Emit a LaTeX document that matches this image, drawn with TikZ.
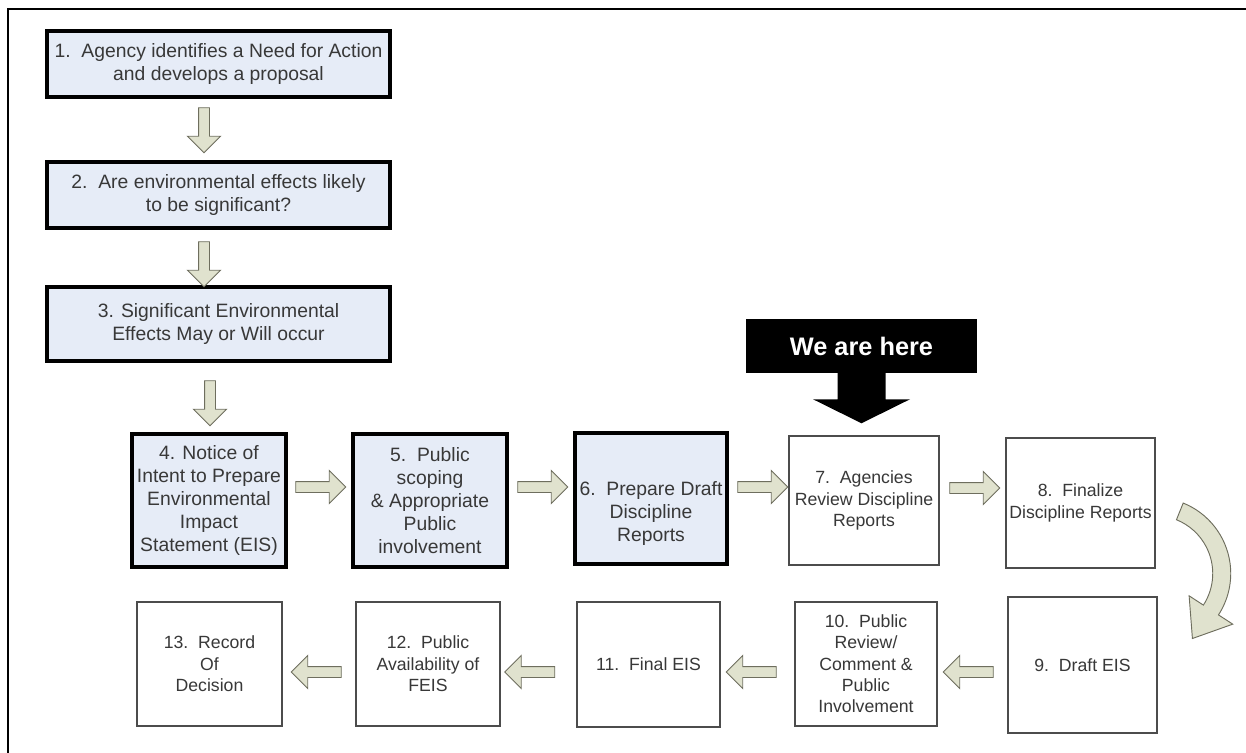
\documentclass[tikz,border=0pt]{standalone}
\usepackage{fontspec}
\setmainfont{Liberation Sans}
\usetikzlibrary{shapes.arrows,calc}
\definecolor{stepblue}{HTML}{E6ECF7}
\definecolor{arrfill}{HTML}{E0E2CE}
\definecolor{arrline}{HTML}{6E6E5E}
\definecolor{txtgray}{HTML}{383838}
\tikzset{
  donebox/.style={draw=black, line width=2.6pt, fill=stepblue, align=center,
    text=txtgray, font=\fontsize{14.5}{17.25}\selectfont, inner sep=0pt},
  todobox/.style={draw=black!70, line width=1.1pt, fill=white, align=center,
    text=txtgray, font=\fontsize{13.25}{16}\selectfont, inner sep=0pt},
  flowarr/.style={single arrow, draw=arrline, fill=arrfill, line width=0.7pt,
    inner sep=0pt, inner ysep=3.75pt, single arrow head extend=8.25pt},
  downarr/.style={flowarr, rotate=-90, minimum height=33.75pt},
  rightarr/.style={flowarr, minimum height=37.5pt},
  leftarr/.style={flowarr, rotate=180, minimum height=37.5pt},
}
\begin{document}
\begin{tikzpicture}[x=0.75pt,y=-0.75pt]
  \useasboundingbox (0,0) rectangle (1246,753);
  \draw[line width=2pt] (8,753) -- (8,9) -- (1246,9);
  % steps done so far
  \node[donebox, minimum width=257.25pt, minimum height=49.5pt] (b1) at (218.5,64)
    {1.~~Agency identifies a Need for Action\\and develops a proposal};
  \node[donebox, minimum width=257.25pt, minimum height=49.5pt] (b2) at (218.5,195)
    {2.~~Are environmental effects likely\\to be significant?};
  \node[donebox, minimum width=257.25pt, minimum height=55.5pt] (b3) at (218.5,324)
    {3. Significant Environmental\\Effects May or Will occur};
  \node[donebox, minimum width=115.5pt, minimum height=99.75pt] (b4) at (209,500.5)
    {4. Notice of\\Intent to Prepare\\Environmental\\Impact\\Statement (EIS)};
  \node[donebox, minimum width=115.5pt, minimum height=99.75pt] (b5) at (430,500.5)
    {5.~~Public\\scoping\\\& Appropriate\\Public\\involvement};
  \node[donebox, minimum width=114pt, minimum height=98.25pt] (b6) at (651,498.5)
    {\rule{0pt}{33pt}6.~~Prepare Draft\\Discipline\\Reports};
  % steps still to come
  \node[todobox, minimum width=112.5pt, minimum height=96.75pt] (b7) at (864,500.5)
    {7.~~Agencies\\Review Discipline\\Reports};
  \node[todobox, minimum width=111.75pt, minimum height=97.5pt] (b8) at (1080.5,503)
    {8.~~Finalize\\Discipline Reports};
  \node[todobox, minimum width=111.75pt, minimum height=102pt] (b9) at (1082.5,665)
    {9.~~Draft EIS};
  \node[todobox, minimum width=106.5pt, minimum height=93pt] (b10) at (866,664)
    {10.~~Public\\Review/\\Comment \&\\Public\\Involvement};
  \node[todobox, minimum width=107.25pt, minimum height=93.75pt] (b11) at (648.5,664.5)
    {11.~~Final EIS};
  \node[todobox, minimum width=108pt, minimum height=93pt] (b12) at (428,664)
    {12.~~Public\\Availability of\\FEIS};
  \node[todobox, minimum width=108.75pt, minimum height=93pt] (b13) at (209.5,664)
    {13.~~Record\\Of\\Decision};
  % block arrows
  \node[downarr] (a12) at (204,127.5) {};
  \node[downarr] (a23) at (204,261.5) {};
  \node[downarr] (a34) at (210,400.5) {};
  \node[rightarr] (a45) at (318,487) {};
  \node[rightarr] (a56) at (540,487) {};
  \node[rightarr] (a67) at (760,487) {};
  \node[rightarr] (a78) at (972,488) {};
  \node[leftarr] (a910) at (971,672) {};
  \node[leftarr] (a1011) at (754,672) {};
  \node[leftarr] (a1112) at (532.5,672) {};
  \node[leftarr] (a1213) at (319,672) {};
  % curved arrow from 8 down to 9
  \coordinate (bend) at ($(b8.south east)!0.5!(b9.north east)+(-2,-9)$);
  \filldraw[draw=arrline, fill=arrfill, line width=0.7pt]
    ($(bend)+(-68:76)$) arc[start angle=-68, end angle=33, radius=76]
    -- ($(bend)+(33:93)$) -- ($(bend)+(33:67)+(123:34)$) -- ($(bend)+(33:41)$)
    -- ($(bend)+(33:58)$) arc[start angle=33, end angle=-68, radius=58] -- cycle;
  % marker
  \node[fill=black, text=white, font=\bfseries\fontsize{19}{19}\selectfont,
    minimum width=173.25pt, minimum height=40.5pt, inner sep=0pt] (here) at (861.5,346) {We are here};
  \fill ($(here.south)+(-24,-1)$) -- ($(here.south)+(-24,26)$) -- ($(here.south)+(-48.5,26)$)
    -- ($(here.south)+(0,50)$) -- ($(here.south)+(48.5,26)$) -- ($(here.south)+(24,26)$)
    -- ($(here.south)+(24,-1)$) -- cycle;
\end{tikzpicture}
\end{document}
